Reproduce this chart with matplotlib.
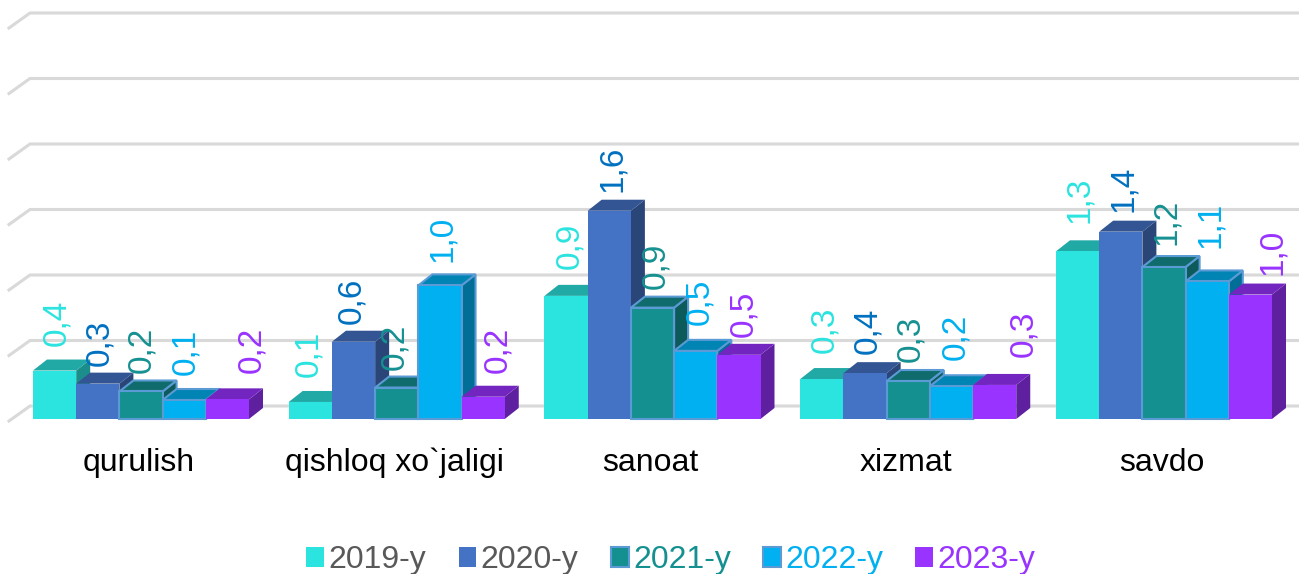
import matplotlib
matplotlib.use("Agg")
import matplotlib.pyplot as plt
from matplotlib.patches import Patch

plt.rcParams['font.family'] = ['Liberation Sans', 'DejaVu Sans']

categories = ["qurulish", "qishloq xo`jaligi", "sanoat", "xizmat", "savdo"]
years = ["2019-y", "2020-y", "2021-y", "2022-y", "2023-y"]

# bar heights
v2019 = [0.37, 0.13, 0.94, 0.305, 1.28]
v2020 = [0.27, 0.59, 1.59, 0.35, 1.43]
v2021 = [0.21, 0.24, 0.85, 0.29, 1.16]
v2022 = [0.145, 1.02, 0.52, 0.25, 1.05]
v2023 = [0.15, 0.17, 0.49, 0.26, 0.95]
series = [v2019, v2020, v2021, v2022, v2023]

# printed labels
l2019 = ["0,4", "0,1", "0,9", "0,3", "1,3"]
l2020 = ["0,3", "0,6", "1,6", "0,4", "1,4"]
l2021 = ["0,2", "0,2", "0,9", "0,3", "1,2"]
l2022 = ["0,1", "1,0", "0,5", "0,2", "1,1"]
l2023 = ["0,2", "0,2", "0,5", "0,3", "1,0"]
labels = [l2019, l2020, l2021, l2022, l2023]

grid_levels = [0, 0.5, 1.0, 1.5, 2.0, 2.5, 3.0]

# label shifts from the bar top, in pixels (x, gap), one row per year
shift_x = [[0, -4, 2, 1, 0], [0, -4, 1, 1, 1], [-1, -4, 1, 1, 1], [0, 1, 2, 2, 1], [22, 13, 3, 27, 20]]
shift_y = [[25, 25, 27, 26, 28], [18, 18, 19, 19, 20], [18, 18, 19, 19, 22], [25, 23, 26, 26, 33], [26, 24, 18, 28, 20]]

front = ["#2BE3DF", "#4472C4", "#159090", "#00B0F0", "#9933FF"]
top = ["#20A9A5", "#335593", "#106C6C", "#0084B4", "#7326BF"]
side = ["#1B8E8B", "#2A4679", "#0D5A5A", "#006E96", "#5F20A0"]
edge = ["none", "none", "#5B9BD5", "#5B9BD5", "none"]
label_col = ["#2BE3DF", "#0070C0", "#159090", "#00B0F0", "#9933FF"]
legend_col = ["#595959", "#595959", "#159090", "#00B0F0", "#9933FF"]

W, H = 1299, 574
px_x = 255.75  # pixels per category
px_y = 131.0   # pixels per unit

fig = plt.figure(figsize=(W / 100, H / 100), dpi=100)
ax = fig.add_axes([0, 0, 1, 1])
ax.set_xlim(-141 / px_x, (W - 141) / px_x)
ax.set_ylim(-(H - 419) / px_y, 419 / px_y)
ax.axis("off")

# back wall grid with the little floor step at the left
x0 = -141 / px_x
for g in grid_levels:
    ax.plot([x0 + 9 / px_x, x0 + 30 / px_x, x0 + W / px_x],
            [g - 2 / px_y, g + 13 / px_y, g + 13 / px_y],
            color="#D9D9D9", lw=2.2, solid_joinstyle="miter", zorder=1)

bw = 43.2 / px_x
dx = 14 / px_x
dy = 11 / px_y

for c in range(len(categories)):
    for s, vals in enumerate(series):
        v = vals[c]
        xl = c + (s - 2.5) * bw
        xr = xl + bw
        lw = 1.5 if edge[s] != "none" else 0
        z = 2 + c + s * 0.1
        ax.fill([xr, xr + dx, xr + dx, xr], [0, dy, v + dy, v], fc=side[s], ec=edge[s], lw=lw, zorder=z)
        ax.fill([xl, xl + dx, xr + dx, xr], [v, v + dy, v + dy, v], fc=top[s], ec=edge[s], lw=lw, zorder=z)
        ax.fill([xl, xr, xr, xl], [0, 0, v, v], fc=front[s], ec=edge[s], lw=lw, zorder=z)

for c in range(len(categories)):
    for s, vals in enumerate(series):
        xc = c + (s - 2) * bw
        ax.annotate(labels[s][c], (xc, vals[c]),
                    xytext=((shift_x[s][c] + 2) * 0.72, shift_y[s][c] * 0.72), textcoords="offset points",
                    rotation=90, ha="center", va="bottom", fontsize=24,
                    color=label_col[s], zorder=20)
    ax.text(c - 2 / px_x, -44 / px_y, categories[c], ha="center", va="center",
            fontsize=23, color="black", zorder=20)

handles = [Patch(fc=front[s], ec=edge[s], lw=1.5 if edge[s] != "none" else 0) for s in range(5)]
ax.legend(handles, years, ncol=5, loc="lower center", bbox_to_anchor=(0.5165, -0.002),
          frameon=False, fontsize=23, labelcolor=legend_col,
          handlelength=0.56, handleheight=0.56, handletextpad=0.14, columnspacing=1.0,
          borderpad=0, borderaxespad=0)

fig.savefig("out.png", dpi=100)
